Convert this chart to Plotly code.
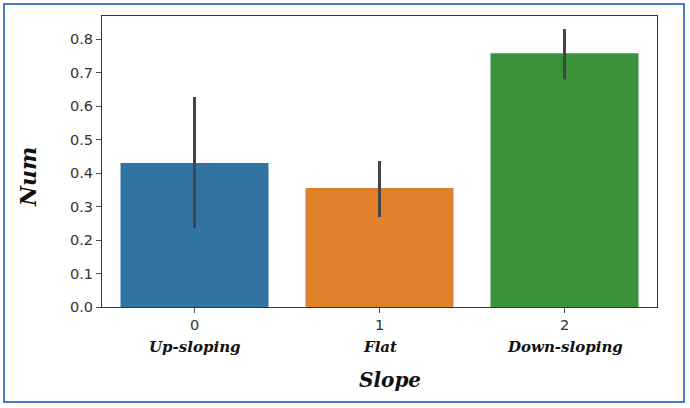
import plotly.graph_objects as go

categories = [0, 1, 2]
tick_labels = ["0", "1", "2"]
category_names = ["Up-sloping", "Flat", "Down-sloping"]
values = [0.43, 0.355, 0.758]
err_upper = [0.197, 0.081, 0.072]
err_lower = [0.194, 0.086, 0.078]
colors = ["#3274a1", "#e1812c", "#3a923a"]
y_ticks = [0.0, 0.1, 0.2, 0.3, 0.4, 0.5, 0.6, 0.7, 0.8]

W, H = 690, 408
L, R, T, B = 102, 33, 16, 101
pw, ph = W - L - R, H - T - B

def px_to_paper_x(px):
    return (px - L) / pw

def px_to_paper_y(py):
    return (H - B - py) / ph

fig = go.Figure()
fig.add_trace(go.Bar(
    x=categories, y=values, width=0.8,
    marker=dict(color=colors, line=dict(width=0)),
    error_y=dict(type="data", symmetric=False, array=err_upper, arrayminus=err_lower,
                 color="#444444", thickness=3, width=0),
    showlegend=False,
))

tick_font = dict(family="DejaVu Sans", size=14.5, color="#333333")
fig.update_layout(
    width=W, height=H,
    margin=dict(l=L, r=R, t=T, b=B),
    paper_bgcolor="white", plot_bgcolor="white",
    xaxis=dict(range=[-0.5, 2.5], tickvals=categories, ticktext=tick_labels,
               showgrid=False, zeroline=False, ticks="outside", ticklen=5, tickcolor="#555",
               showline=True, linecolor="#333", linewidth=1, mirror=True, tickfont=tick_font),
    yaxis=dict(range=[0, 0.869], tickvals=y_ticks, tickformat=".1f",
               showgrid=False, zeroline=False, ticks="outside", ticklen=5, tickcolor="#555",
               showline=True, linecolor="#333", linewidth=1, mirror=True, tickfont=tick_font),
)

label_font = dict(family="DejaVu Serif", size=15, color="#111111")
for c, name in zip(categories, category_names):
    fig.add_annotation(x=c, xref="x", y=px_to_paper_y(347), yref="paper",
                       text="<i><b>%s</b></i>" % name, showarrow=False,
                       font=label_font, xanchor="center", yanchor="middle")

fig.add_annotation(x=px_to_paper_x(390), xref="paper", y=px_to_paper_y(380), yref="paper",
                   text="<i><b>Slope</b></i>", showarrow=False,
                   font=dict(family="DejaVu Serif", size=20, color="#111111"),
                   xanchor="center", yanchor="middle")
fig.add_annotation(x=px_to_paper_x(28), xref="paper", y=px_to_paper_y(177), yref="paper",
                   text="<i><b>Num</b></i>", showarrow=False, textangle=-90,
                   font=dict(family="DejaVu Serif", size=22, color="#111111"),
                   xanchor="center", yanchor="middle")

fig.add_shape(type="rect", xref="paper", yref="paper",
              x0=px_to_paper_x(4), x1=px_to_paper_x(684),
              y0=px_to_paper_y(402), y1=px_to_paper_y(4),
              line=dict(color="#4a78cc", width=2), fillcolor="rgba(0,0,0,0)", layer="above")

fig.write_html("out.html", config={"displayModeBar": False},
               post_script="document.body.style.margin='0';document.body.style.overflow='hidden';")
